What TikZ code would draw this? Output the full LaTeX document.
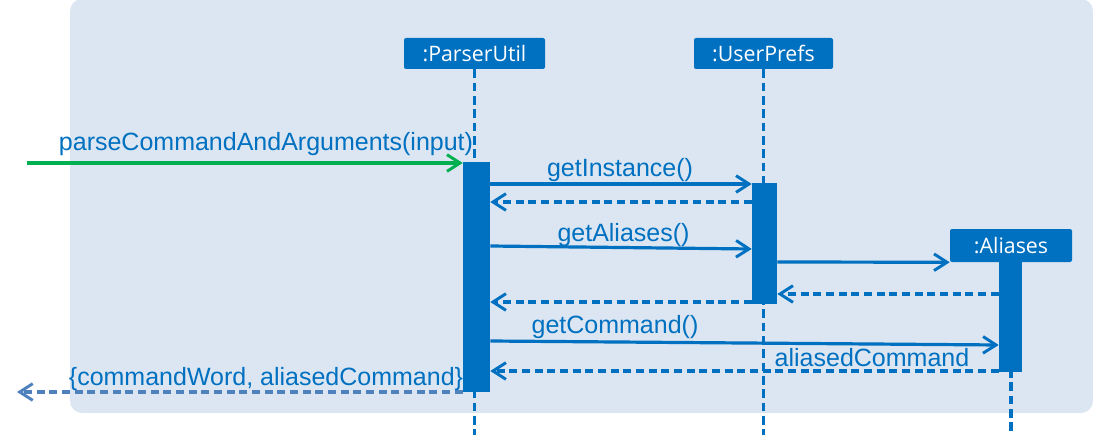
\documentclass[tikz,border=0pt]{standalone}
\usepackage{fontspec}
\setmainfont{Liberation Sans}
\newfontfamily\boxfont{Open Sans}
\usetikzlibrary{arrows.meta}
\definecolor{bgblue}{HTML}{DCE6F2}
\definecolor{umlblue}{HTML}{0070C0}
\definecolor{umlgreen}{HTML}{00B050}
\definecolor{retblue}{HTML}{4F81BD}
\tikzset{
  objbox/.style={fill=umlblue, text=white, rounded corners=1.5pt, inner sep=0pt,
    minimum height=23.25pt, font=\boxfont\fontsize{16}{18}\selectfont},
  actbar/.style={fill=umlblue, draw=none, inner sep=0pt},
  lifeline/.style={draw=umlblue, line width=2.3pt, dash pattern=on 6.5pt off 3.5pt},
  msg/.style={draw=umlblue, line width=2.4pt, -{Straight Barb[length=9.75pt,width=12.5pt,line width=2.2pt]}},
  retmsg/.style={msg, dash pattern=on 6pt off 3.5pt},
  msglabel/.style={text=umlblue, anchor=base, inner sep=0pt, font=\fontsize{18.75}{22}\selectfont},
}
\begin{document}
\begin{tikzpicture}[x=0.75pt,y=-0.75pt]
\useasboundingbox (0,0) rectangle (1093,435);
\fill[bgblue, rounded corners=9pt] (70,-1) rectangle (1093,413);

% objects
\node[objbox, minimum width=105.75pt] (pu) at (474.5,53.5) {:ParserUtil};
\node[objbox, minimum width=104.25pt] (up) at (763.5,53.5) {:UserPrefs};
\node[objbox, minimum width=91.5pt, minimum height=24.75pt] (al) at (1011,245.5) {:Aliases};

\coordinate (bottom) at (0,436);
% lifelines
\draw[lifeline] (pu.south) -- (pu.south |- bottom);
\draw[lifeline] (up.south) -- (up.south |- bottom);
\draw[lifeline] (al.south) -- (al.south |- bottom);

% activation bars
\node[actbar, minimum width=20.25pt, minimum height=172.5pt] (pa) at (476.5,277) {};
\node[actbar, minimum width=18.75pt, minimum height=90.75pt] (ua) at (764.5,243.5) {};
\node[actbar, minimum width=17.25pt, minimum height=82.5pt] (aa) at (1010.5,317) {};

% y levels
\coordinate (y163) at (0,163);
\coordinate (y184) at (0,184);
\coordinate (y202) at (0,202);
\coordinate (y246) at (0,246);
\coordinate (y249) at (0,249);
\coordinate (y262) at (0,262);
\coordinate (y294) at (0,294);
\coordinate (y302) at (0,302);
\coordinate (y341) at (0,341);
\coordinate (y345) at (0,345);
\coordinate (y371) at (0,371);
\coordinate (y392) at (0,392);
\coordinate (start) at (27,163);
\coordinate (finish) at (17,392);

% messages
\draw[msg, draw=umlgreen] (start) -- (pa.west |- y163);
\draw[msg] (pa.east |- y184) -- (ua.west |- y184);
\draw[retmsg] (ua.west |- y202) -- (pa.east |- y202);
\draw[msg] (pa.east |- y246) -- (ua.west |- y249);
\draw[msg] (ua.east |- y262) -- (al.south west);
\draw[retmsg] (aa.west |- y294) -- (ua.east |- y294);
\draw[retmsg] (ua.west |- y302) -- (pa.east |- y302);
\draw[msg] (pa.east |- y341) -- (aa.west |- y345);
\draw[retmsg] (aa.west |- y371) -- (pa.east |- y371);
\draw[retmsg, draw=retblue] (pa.west |- y392) -- (finish);

% labels
\node[msglabel] (l1) at (266,151) {parseCommandAndArguments(input)};
\node[msglabel] (l2) at (620,176) {getInstance()};
\node[msglabel] (l3) at (623.5,241) {getAliases()};
\node[msglabel] (l4) at (615,333) {getCommand()};
\node[msglabel] (l5) at (872,366) {aliasedCommand};
\node[msglabel] (l6) at (266,385) {\{commandWord, aliasedCommand\}};
\end{tikzpicture}
\end{document}
